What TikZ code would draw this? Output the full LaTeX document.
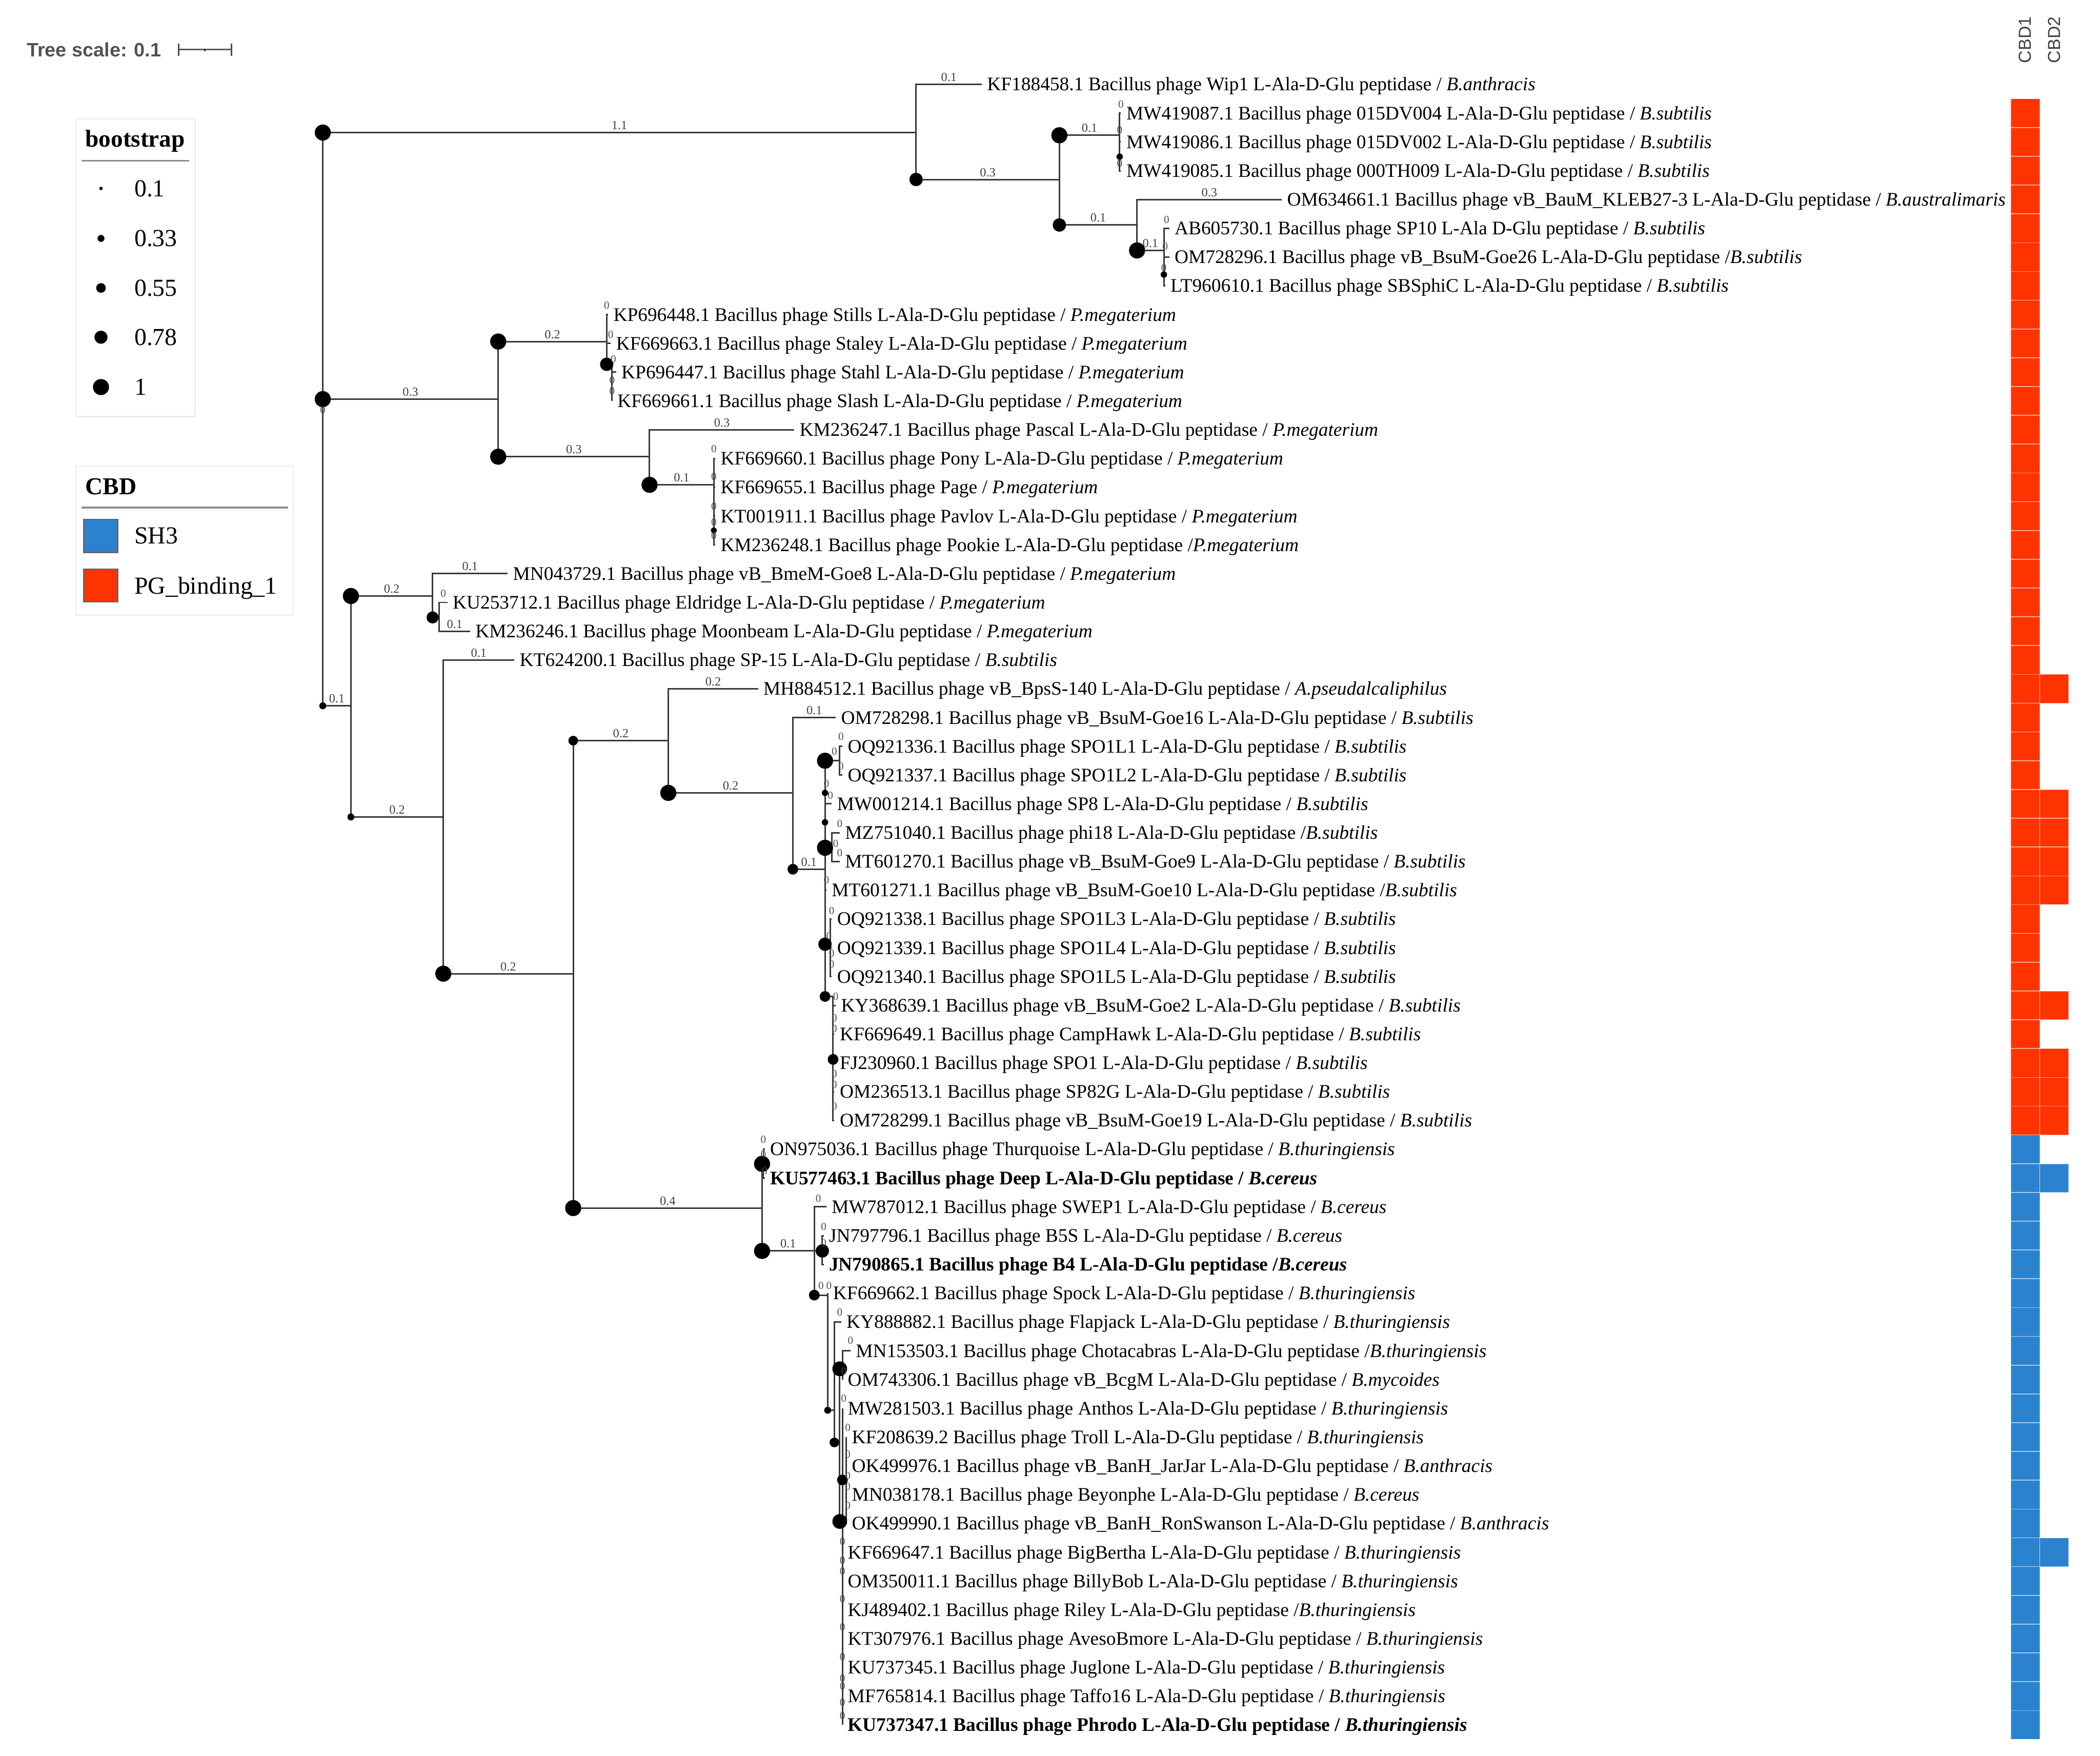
\documentclass[tikz,border=0pt]{standalone}
\usepackage{fontspec}
\setmainfont{Liberation Serif}
\newfontfamily\sansf{Liberation Sans}
\definecolor{pgred}{HTML}{FF3300}
\definecolor{shblue}{HTML}{2B83CF}
\newcommand{\leafnode}[4]{\node[leaf] (#1) at (#2,#3) {#4};}
\newcommand{\brn}[2]{\draw[br] (#1) |- (#2);}
\newcommand{\brl}[3]{\draw[br] (#1) |- node[bl,pos=0.75]{#3} (#2);}
\newcommand{\dotat}[3]{\fill[black] (#1,#2) circle[radius=#3];}
\newcommand{\zer}[3]{\node[zl] (#1) at (#2,#3) {0};}
\begin{document}
\begin{tikzpicture}[x=0.02cm,y=-0.02cm,
  br/.style={draw=black!78, line width=0.65pt},
  bl/.style={font=\fontsize{5.3}{6}\selectfont, text=black!75, above, inner sep=0.9pt},
  zl/.style={font=\fontsize{4.6}{5}\selectfont, text=black!70, inner sep=0pt},
  leaf/.style={anchor=west, inner xsep=2.3pt, inner ysep=0pt, outer sep=0pt, text height=5.4pt, text depth=0pt, font=\fontsize{8.15}{9}\selectfont},
  lgt/.style={anchor=west, inner sep=0pt, text height=6.9pt, text depth=0pt, font=\fontsize{10.3}{12}\selectfont\bfseries},
  lge/.style={anchor=west, inner sep=0pt, text height=6.9pt, text depth=0pt, font=\fontsize{10.4}{12}\selectfont},
  cellr/.style={fill=pgred, draw=white, draw opacity=0.45, line width=0.35pt},
  cellb/.style={fill=shblue, draw=white, draw opacity=0.45, line width=0.35pt},
  hdr/.style={rotate=90, anchor=west, inner sep=0pt, text=black!75, font=\sansf\fontsize{7.4}{9}\selectfont}
]
\fill[white] (0,0) rectangle (1568,1311);
\useasboundingbox (0,0) rectangle (1568,1311);

% ---------- tree scale ----------
\node[anchor=west, inner sep=0pt, text height=5.9pt, text depth=0pt, text=black!68,
      font=\sansf\bfseries\fontsize{8.25}{9}\selectfont] (ts) at (19.6,37) {Tree scale: 0.1};
\coordinate (sb1) at (133.5,37);
\coordinate (sb2) at (172.7,37);
\draw[black!65, line width=0.7pt] (sb1) -- (sb2);
\draw[black!70, line width=0.6pt] ([yshift=2.6pt]sb1) -- ([yshift=-2.6pt]sb1);
\draw[black!70, line width=0.6pt] ([yshift=2.6pt]sb2) -- ([yshift=-2.6pt]sb2);
\draw[black!80, line width=0.6pt] (153,36.2) -- (153,38.4);

% ---------- legends ----------
\draw[draw=black!8, fill=white, line width=0.5pt] (56.7,88.7) rectangle (145.7,311);
\node[lgt] (bt) at (63.4,103.8) {bootstrap};
\draw[black!45, line width=0.7pt] (60.7,120) -- (141.4,120);
\dotat{75.4}{140.7}{1.3}
\dotat{75.4}{178}{2.6}
\dotat{75.4}{215}{3.6}
\dotat{75.4}{251.8}{4.9}
\dotat{75.4}{289}{6}
\node[lge] (b1) at (100,140.7) {0.1};
\node[lge] (b2) at (100,178) {0.33};
\node[lge] (b3) at (100,215) {0.55};
\node[lge] (b4) at (100,251.8) {0.78};
\node[lge] (b5) at (100,289) {1};

\draw[draw=black!8, fill=white, line width=0.5pt] (56.7,348) rectangle (219,459.5);
\node[lgt] (ct) at (63.4,363) {CBD};
\draw[black!45, line width=0.7pt] (60.7,379) -- (215,379);
\filldraw[fill=shblue, draw=black!60, line width=0.5pt] (62.6,387.7) rectangle (87.9,412.5);
\filldraw[fill=pgred, draw=black!60, line width=0.5pt] (62.6,425) rectangle (87.9,449.5);
\node[lge] (c1) at (100,400) {SH3};
\node[lge] (c2) at (100,437.3) {PG\_binding\_1};

% ---------- internal nodes ----------
\coordinate (R) at (241,298);
\coordinate (A) at (684,99);
\coordinate (A2) at (791,134);
\coordinate (A3) at (836,101);
\coordinate (A4) at (849,168);
\coordinate (A5) at (869,187);
\coordinate (B) at (372,298);
\coordinate (B1) at (453,255);
\coordinate (B1b) at (457,272);
\coordinate (B2) at (485,341);
\coordinate (B3) at (533,362);
\coordinate (C) at (262,527);
\coordinate (C1) at (323,445);
\coordinate (C1b) at (328,461);
\coordinate (C2) at (331,610);
\coordinate (C3) at (428,727);
\coordinate (C4) at (499,553);
\coordinate (C5) at (569,902);
\coordinate (C6) at (592,592);
\coordinate (C7) at (616,649);
\coordinate (S1) at (627,568);
\coordinate (S2) at (621,633);
\coordinate (S3) at (620,705);
\coordinate (S4) at (622,744);
\coordinate (C8) at (570,869);
\coordinate (C9) at (608,934);
\coordinate (D1) at (614,934);
\coordinate (D2) at (618,967);
\coordinate (D3) at (623,1053);
\coordinate (D4) at (627,1077);
\coordinate (S5) at (629,1022);
\coordinate (D5) at (629,1136);
\coordinate (S6) at (632,1105);

% ---------- leaves ----------
\leafnode{L1}{733}{63.0}{KF188458.1 Bacillus phage Wip1 L-Ala-D-Glu peptidase / \textit{B.anthracis}}
\leafnode{L2}{837}{84.5}{MW419087.1 Bacillus phage 015DV004 L-Ala-D-Glu peptidase / \textit{B.subtilis}}
\leafnode{L3}{837}{106.0}{MW419086.1 Bacillus phage 015DV002 L-Ala-D-Glu peptidase / \textit{B.subtilis}}
\leafnode{L4}{837}{127.5}{MW419085.1 Bacillus phage 000TH009 L-Ala-D-Glu peptidase / \textit{B.subtilis}}
\leafnode{L5}{957}{149.0}{OM634661.1 Bacillus phage vB\_BauM\_KLEB27-3 L-Ala-D-Glu peptidase / \textit{B.australimaris}}
\leafnode{L6}{873}{170.5}{AB605730.1 Bacillus phage SP10 L-Ala D-Glu peptidase / \textit{B.subtilis}}
\leafnode{L7}{873}{191.9}{OM728296.1 Bacillus phage vB\_BsuM-Goe26 L-Ala-D-Glu peptidase /\textit{B.subtilis}}
\leafnode{L8}{870}{213.4}{LT960610.1 Bacillus phage SBSphiC L-Ala-D-Glu peptidase / \textit{B.subtilis}}
\leafnode{L9}{454}{234.9}{KP696448.1 Bacillus phage Stills L-Ala-D-Glu peptidase / \textit{P.megaterium}}
\leafnode{L10}{456}{256.4}{KF669663.1 Bacillus phage Staley L-Ala-D-Glu peptidase / \textit{P.megaterium}}
\leafnode{L11}{460}{277.9}{KP696447.1 Bacillus phage Stahl L-Ala-D-Glu peptidase / \textit{P.megaterium}}
\leafnode{L12}{457}{299.4}{KF669661.1 Bacillus phage Slash L-Ala-D-Glu peptidase / \textit{P.megaterium}}
\leafnode{L13}{593}{320.9}{KM236247.1 Bacillus phage Pascal L-Ala-D-Glu peptidase / \textit{P.megaterium}}
\leafnode{L14}{534}{342.4}{KF669660.1 Bacillus phage Pony L-Ala-D-Glu peptidase / \textit{P.megaterium}}
\leafnode{L15}{534}{363.9}{KF669655.1 Bacillus phage Page / \textit{P.megaterium}}
\leafnode{L16}{534}{385.4}{KT001911.1 Bacillus phage Pavlov L-Ala-D-Glu peptidase / \textit{P.megaterium}}
\leafnode{L17}{534}{406.8}{KM236248.1 Bacillus phage Pookie L-Ala-D-Glu peptidase /\textit{P.megaterium}}
\leafnode{L18}{379}{428.3}{MN043729.1 Bacillus phage vB\_BmeM-Goe8 L-Ala-D-Glu peptidase / \textit{P.megaterium}}
\leafnode{L19}{334}{449.8}{KU253712.1 Bacillus phage Eldridge L-Ala-D-Glu peptidase / \textit{P.megaterium}}
\leafnode{L20}{351}{471.3}{KM236246.1 Bacillus phage Moonbeam L-Ala-D-Glu peptidase / \textit{P.megaterium}}
\leafnode{L21}{384}{492.8}{KT624200.1 Bacillus phage SP-15 L-Ala-D-Glu peptidase / \textit{B.subtilis}}
\leafnode{L22}{566}{514.3}{MH884512.1 Bacillus phage vB\_BpsS-140 L-Ala-D-Glu peptidase / \textit{A.pseudalcaliphilus}}
\leafnode{L23}{624}{535.8}{OM728298.1 Bacillus phage vB\_BsuM-Goe16 L-Ala-D-Glu peptidase / \textit{B.subtilis}}
\leafnode{L24}{629}{557.3}{OQ921336.1 Bacillus phage SPO1L1 L-Ala-D-Glu peptidase / \textit{B.subtilis}}
\leafnode{L25}{629}{578.8}{OQ921337.1 Bacillus phage SPO1L2 L-Ala-D-Glu peptidase / \textit{B.subtilis}}
\leafnode{L26}{621}{600.2}{MW001214.1 Bacillus phage SP8 L-Ala-D-Glu peptidase / \textit{B.subtilis}}
\leafnode{L27}{627}{621.7}{MZ751040.1 Bacillus phage phi18 L-Ala-D-Glu peptidase /\textit{B.subtilis}}
\leafnode{L28}{627}{643.2}{MT601270.1 Bacillus phage vB\_BsuM-Goe9 L-Ala-D-Glu peptidase / \textit{B.subtilis}}
\leafnode{L29}{617}{664.7}{MT601271.1 Bacillus phage vB\_BsuM-Goe10 L-Ala-D-Glu peptidase /\textit{B.subtilis}}
\leafnode{L30}{621}{686.2}{OQ921338.1 Bacillus phage SPO1L3 L-Ala-D-Glu peptidase / \textit{B.subtilis}}
\leafnode{L31}{621}{707.7}{OQ921339.1 Bacillus phage SPO1L4 L-Ala-D-Glu peptidase / \textit{B.subtilis}}
\leafnode{L32}{621}{729.2}{OQ921340.1 Bacillus phage SPO1L5 L-Ala-D-Glu peptidase / \textit{B.subtilis}}
\leafnode{L33}{624}{750.7}{KY368639.1 Bacillus phage vB\_BsuM-Goe2 L-Ala-D-Glu peptidase / \textit{B.subtilis}}
\leafnode{L34}{623}{772.2}{KF669649.1 Bacillus phage CampHawk L-Ala-D-Glu peptidase / \textit{B.subtilis}}
\leafnode{L35}{623}{793.7}{FJ230960.1 Bacillus phage SPO1 L-Ala-D-Glu peptidase / \textit{B.subtilis}}
\leafnode{L36}{623}{815.1}{OM236513.1 Bacillus phage SP82G L-Ala-D-Glu peptidase / \textit{B.subtilis}}
\leafnode{L37}{623}{836.6}{OM728299.1 Bacillus phage vB\_BsuM-Goe19 L-Ala-D-Glu peptidase / \textit{B.subtilis}}
\leafnode{L38}{571}{858.1}{ON975036.1 Bacillus phage Thurquoise L-Ala-D-Glu peptidase / \textit{B.thuringiensis}}
\leafnode{L39}{571}{879.6}{\textbf{KU577463.1 Bacillus phage Deep L-Ala-D-Glu peptidase / \textit{B.cereus}}}
\leafnode{L40}{617}{901.1}{MW787012.1 Bacillus phage SWEP1 L-Ala-D-Glu peptidase / \textit{B.cereus}}
\leafnode{L41}{615}{922.6}{JN797796.1 Bacillus phage B5S L-Ala-D-Glu peptidase / \textit{B.cereus}}
\leafnode{L42}{615}{944.1}{\textbf{JN790865.1 Bacillus phage B4 L-Ala-D-Glu peptidase /\textit{B.cereus}}}
\leafnode{L43}{618}{965.6}{KF669662.1 Bacillus phage Spock L-Ala-D-Glu peptidase / \textit{B.thuringiensis}}
\leafnode{L44}{628}{987.1}{KY888882.1 Bacillus phage Flapjack L-Ala-D-Glu peptidase / \textit{B.thuringiensis}}
\leafnode{L45}{635}{1008.6}{MN153503.1 Bacillus phage Chotacabras L-Ala-D-Glu peptidase /\textit{B.thuringiensis}}
\leafnode{L46}{629}{1030.0}{OM743306.1 Bacillus phage vB\_BcgM L-Ala-D-Glu peptidase / \textit{B.mycoides}}
\leafnode{L47}{629}{1051.5}{MW281503.1 Bacillus phage Anthos L-Ala-D-Glu peptidase / \textit{B.thuringiensis}}
\leafnode{L48}{632}{1073.0}{KF208639.2 Bacillus phage Troll L-Ala-D-Glu peptidase / \textit{B.thuringiensis}}
\leafnode{L49}{632}{1094.5}{OK499976.1 Bacillus phage vB\_BanH\_JarJar L-Ala-D-Glu peptidase / \textit{B.anthracis}}
\leafnode{L50}{632}{1116.0}{MN038178.1 Bacillus phage Beyonphe L-Ala-D-Glu peptidase / \textit{B.cereus}}
\leafnode{L51}{632}{1137.5}{OK499990.1 Bacillus phage vB\_BanH\_RonSwanson L-Ala-D-Glu peptidase / \textit{B.anthracis}}
\leafnode{L52}{629}{1159.0}{KF669647.1 Bacillus phage BigBertha L-Ala-D-Glu peptidase / \textit{B.thuringiensis}}
\leafnode{L53}{629}{1180.5}{OM350011.1 Bacillus phage BillyBob L-Ala-D-Glu peptidase / \textit{B.thuringiensis}}
\leafnode{L54}{629}{1202.0}{KJ489402.1 Bacillus phage Riley L-Ala-D-Glu peptidase /\textit{B.thuringiensis}}
\leafnode{L55}{629}{1223.4}{KT307976.1 Bacillus phage AvesoBmore L-Ala-D-Glu peptidase / \textit{B.thuringiensis}}
\leafnode{L56}{629}{1244.9}{KU737345.1 Bacillus phage Juglone L-Ala-D-Glu peptidase / \textit{B.thuringiensis}}
\leafnode{L57}{629}{1266.4}{MF765814.1 Bacillus phage Taffo16 L-Ala-D-Glu peptidase / \textit{B.thuringiensis}}
\leafnode{L58}{629}{1287.9}{\textbf{KU737347.1 Bacillus phage Phrodo L-Ala-D-Glu peptidase / \textit{B.thuringiensis}}}

% ---------- branches ----------
\brl{R}{A}{1.1}
\brl{R}{B}{0.3}
\brl{R}{C}{0.1}
\brl{A}{L1.west}{0.1}
\brl{A}{A2}{0.3}
\brl{A2}{A3}{0.1}
\brl{A2}{A4}{0.1}
\brn{A3}{L2.west}\brn{A3}{L3.west}\brn{A3}{L4.west}
\brl{A4}{L5.west}{0.3}
\brl{A4}{A5}{0.1}
\brn{A5}{L6.west}\brn{A5}{L7.west}\brn{A5}{L8.west}
\brl{B}{B1}{0.2}
\brl{B}{B2}{0.3}
\brn{B1}{L9.west}\brn{B1}{L10.west}\brn{B1}{B1b}
\brn{B1b}{L11.west}\brn{B1b}{L12.west}
\brl{B2}{L13.west}{0.3}
\brl{B2}{B3}{0.1}
\brn{B3}{L14.west}\brn{B3}{L15.west}\brn{B3}{L16.west}\brn{B3}{L17.west}
\brl{C}{C1}{0.2}
\brl{C}{C2}{0.2}
\brl{C1}{L18.west}{0.1}
\brn{C1}{C1b}
\brn{C1b}{L19.west}
\brl{C1b}{L20.west}{0.1}
\brl{C2}{L21.west}{0.1}
\brl{C2}{C3}{0.2}
\brl{C3}{C4}{0.2}
\brl{C3}{C5}{0.4}
\brl{C4}{L22.west}{0.2}
\brl{C4}{C6}{0.2}
\brl{C6}{L23.west}{0.1}
\brl{C6}{C7}{0.1}
\brn{C7}{S1}\brn{C7}{L26.west}\brn{C7}{S2}\brn{C7}{L29.west}\brn{C7}{S3}\brn{C7}{S4}
\brn{S1}{L24.west}\brn{S1}{L25.west}
\brn{S2}{L27.west}\brn{S2}{L28.west}
\brn{S3}{L30.west}\brn{S3}{L31.west}\brn{S3}{L32.west}
\brn{S4}{L33.west}\brn{S4}{L34.west}\brn{S4}{L35.west}\brn{S4}{L36.west}\brn{S4}{L37.west}
\brn{C5}{C8}
\brl{C5}{C9}{0.1}
\brn{C8}{L38.west}\brn{C8}{L39.west}
\brn{C9}{L40.west}\brn{C9}{D1}\brn{C9}{D2}
\brn{D1}{L41.west}\brn{D1}{L42.west}
\brn{D2}{L43.west}\brn{D2}{D3}
\brn{D3}{L44.west}\brn{D3}{D4}
\brn{D4}{S5}\brn{D4}{D5}
\brn{S5}{L45.west}\brn{S5}{L46.west}
\brn{D5}{L47.west}\brn{D5}{S6}
\brn{S6}{L48.west}\brn{S6}{L49.west}\brn{S6}{L50.west}\brn{S6}{L51.west}
\brn{D5}{L52.west}\brn{D5}{L53.west}\brn{D5}{L54.west}\brn{D5}{L55.west}\brn{D5}{L56.west}\brn{D5}{L57.west}\brn{D5}{L58.west}

% ---------- bootstrap dots ----------
\dotat{241}{99}{6}
\dotat{241}{298}{6}
\dotat{241}{527}{2.6}
\dotat{684}{134}{5}
\dotat{791}{101}{6}
\dotat{791}{168}{5}
\dotat{836}{117}{2.4}
\dotat{849}{187}{6}
\dotat{869}{205}{2.4}
\dotat{372}{255}{6}
\dotat{372}{341}{6}
\dotat{453}{272}{5}
\dotat{485}{362}{6}
\dotat{533}{396}{2.2}
\dotat{262}{445}{6}
\dotat{323}{461}{4.5}
\dotat{262}{610}{2.6}
\dotat{331}{727}{6}
\dotat{428}{553}{3.6}
\dotat{428}{902}{6}
\dotat{499}{592}{6}
\dotat{592}{649}{4}
\dotat{616}{568}{6}
\dotat{616}{592}{2.4}
\dotat{616}{614}{2.4}
\dotat{616}{633}{6}
\dotat{616}{705}{5}
\dotat{616}{744}{4}
\dotat{622}{791}{4}
\dotat{569}{869}{6}
\dotat{569}{934}{6}
\dotat{608}{967}{4}
\dotat{614}{934}{5}
\dotat{618}{1053}{2.6}
\dotat{623}{1077}{3.6}
\dotat{627}{1022}{5.5}
\dotat{627}{1136}{5.5}
\dotat{629}{1105}{4}

% ---------- zero branch-length labels ----------
\zer{z1}{837}{78}
\zer{z2}{836}{97}
\zer{z3}{836}{122}
\zer{z4}{871}{164}
\zer{z5}{870}{184}
\zer{z6}{869}{200}
\zer{z7}{453}{228}
\zer{z8}{456}{250}
\zer{z9}{458}{268}
\zer{z10}{457}{284}
\zer{z11}{457}{292}
\zer{z12}{533}{335}
\zer{z13}{533}{356}
\zer{z14}{533}{378}
\zer{z15}{533}{390}
\zer{z16}{533}{400}
\zer{z17}{331}{443}
\zer{z18}{241}{306}
\zer{z19}{628}{550}
\zer{z20}{623}{561}
\zer{z21}{628}{572}
\zer{z22}{617}{585}
\zer{z23}{620}{594}
\zer{z24}{627}{615}
\zer{z25}{624}{630}
\zer{z26}{627}{637}
\zer{z27}{617}{657}
\zer{z28}{621}{680}
\zer{z29}{619}{699}
\zer{z30}{621}{712}
\zer{z31}{621}{720}
\zer{z32}{624}{744}
\zer{z33}{623}{760}
\zer{z34}{623}{768}
\zer{z35}{623}{802}
\zer{z36}{623}{810}
\zer{z37}{623}{826}
\zer{z38}{570}{851}
\zer{z39}{570}{862}
\zer{z40}{571}{874}
\zer{z41}{611}{895}
\zer{z42}{615}{916}
\zer{z43}{615}{928}
\zer{z44}{613}{960}
\zer{z45}{619}{960}
\zer{z46}{627}{980}
\zer{z47}{635}{1001}
\zer{z48}{630}{1024}
\zer{z49}{630}{1044}
\zer{z50}{633}{1066}
\zer{z51}{633}{1086}
\zer{z52}{633}{1102}
\zer{z53}{633}{1110}
\zer{z54}{633}{1124}
\zer{z55}{629}{1151}
\zer{z56}{629}{1165}
\zer{z57}{629}{1173}
\zer{z58}{629}{1194}
\zer{z59}{629}{1215}
\zer{z60}{629}{1237}
\zer{z61}{629}{1253}
\zer{z62}{629}{1259}
\zer{z63}{629}{1271}
\zer{z64}{629}{1281}

% ---------- heatmap ----------
\node[hdr] (h1) at (1512,47.5) {CBD1};
\node[hdr] (h2) at (1534,47.5) {CBD2};
\foreach \i in {2,...,37}
  \filldraw[cellr] (1501.5,{63+(\i-1)*21.49-10.745}) rectangle ++(21.5,21.49);
\foreach \i in {38,...,58}
  \filldraw[cellb] (1501.5,{63+(\i-1)*21.49-10.745}) rectangle ++(21.5,21.49);
\foreach \i in {22,26,27,28,29,33,35,36,37}
  \filldraw[cellr] (1523,{63+(\i-1)*21.49-10.745}) rectangle ++(21.5,21.49);
\foreach \i in {39,52}
  \filldraw[cellb] (1523,{63+(\i-1)*21.49-10.745}) rectangle ++(21.5,21.49);
\end{tikzpicture}
\end{document}
